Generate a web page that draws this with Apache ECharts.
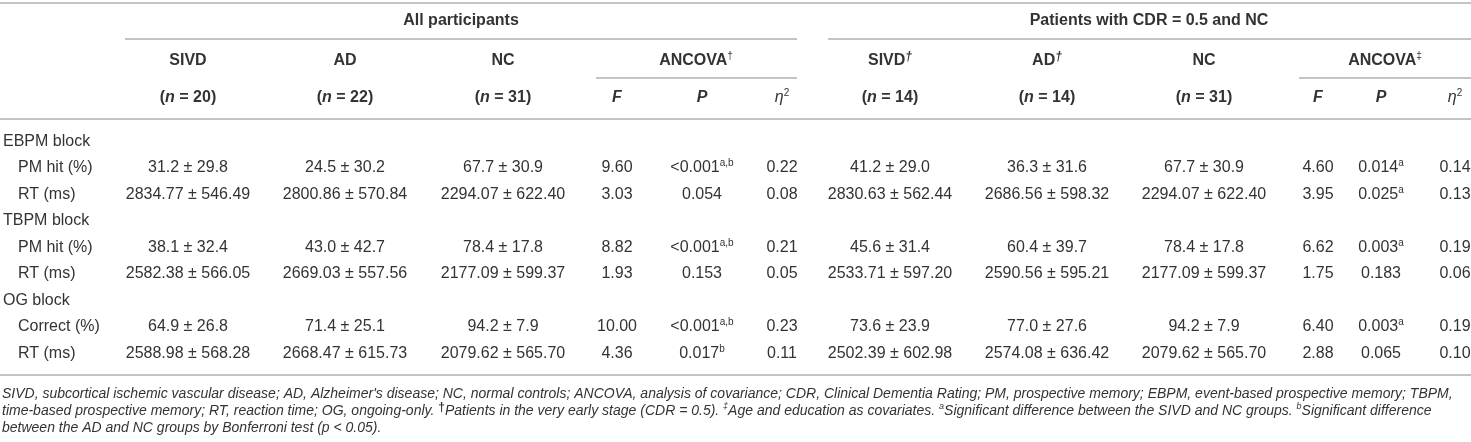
<!DOCTYPE html>
<html>
<head>
<meta charset="utf-8">
<script src="https://cdn.jsdelivr.net/npm/echarts@6/dist/echarts.min.js"></script>
<style>
html,body{margin:0;padding:0;background:#fff;}
#chart{width:1471px;height:442px;}
</style>
</head>
<body>
<div id="chart"></div>
<script>
// ---------- DATA ----------
const groupHeaders = ['All participants', 'Patients with CDR = 0.5 and NC'];
const groupNames = ['SIVD', 'AD', 'NC'];
const nAll = [20, 22, 31];
const nEarly = [14, 14, 31];
const statHeaders = ['F', 'P'];
const blockLabels = ['EBPM block', 'TBPM block', 'OG block'];
const measureLabels = ['PM hit (%)', 'RT (ms)', 'PM hit (%)', 'RT (ms)', 'Correct (%)', 'RT (ms)'];
const measureDecimals = [1, 2, 1, 2, 1, 2];

// All participants
const sivdMean = [31.2, 2834.77, 38.1, 2582.38, 64.9, 2588.98];
const sivdSD   = [29.8, 546.49, 32.4, 566.05, 26.8, 568.28];
const adMean   = [24.5, 2800.86, 43.0, 2669.03, 71.4, 2668.47];
const adSD     = [30.2, 570.84, 42.7, 557.56, 25.1, 615.73];
const ncMean   = [67.7, 2294.07, 78.4, 2177.09, 94.2, 2079.62];
const ncSD     = [30.9, 622.40, 17.8, 599.37, 7.9, 565.70];
const fAll     = [9.60, 3.03, 8.82, 1.93, 10.00, 4.36];
const pAll     = ['<0.001', '0.054', '<0.001', '0.153', '<0.001', '0.017'];
const pAllSup  = ['a,b', '', 'a,b', '', 'a,b', 'b'];
const etaAll   = [0.22, 0.08, 0.21, 0.05, 0.23, 0.11];

// Patients with CDR = 0.5 and NC
const sivdEMean = [41.2, 2830.63, 45.6, 2533.71, 73.6, 2502.39];
const sivdESD   = [29.0, 562.44, 31.4, 597.20, 23.9, 602.98];
const adEMean   = [36.3, 2686.56, 60.4, 2590.56, 77.0, 2574.08];
const adESD     = [31.6, 598.32, 39.7, 595.21, 27.6, 636.42];
const ncEMean   = [67.7, 2294.07, 78.4, 2177.09, 94.2, 2079.62];
const ncESD     = [30.9, 622.40, 17.8, 599.37, 7.9, 565.70];
const fEarly    = [4.60, 3.95, 6.62, 1.75, 6.40, 2.88];
const pEarly    = ['0.014', '0.025', '0.003', '0.183', '0.003', '0.065'];
const pEarlySup = ['a', 'a', 'a', '', 'a', ''];
const etaEarly  = [0.14, 0.13, 0.19, 0.06, 0.19, 0.10];

const footnoteLines = [
  [['fi', "SIVD, subcortical ischemic vascular disease; AD, Alzheimer's disease; NC, normal controls; ANCOVA, analysis of covariance; CDR, Clinical Dementia Rating; PM, prospective memory; EBPM, event-based prospective memory; TBPM,"]],
  [['fi', 'time-based prospective memory; RT, reaction time; OG, ongoing-only. '], ['fdag', '†'], ['fi', 'Patients in the very early stage (CDR = 0.5). '], ['fsup', '‡'], ['fi', 'Age and education as covariates. '], ['fsup', 'a'], ['fi', 'Significant difference between the SIVD and NC groups. '], ['fsup', 'b'], ['fi', 'Significant difference']],
  [['fi', 'between the AD and NC groups by Bonferroni test (p < 0.05).']]
];

// ---------- LAYOUT ----------
const W = 1471, H = 442;
const colX = [188, 345, 503, 617, 702, 782, 890, 1047, 1204, 1318, 1381, 1455];
const groupCenterX = [461, 1149];
const ancovaCenterX = [696, 1385];
const labelX = 3, indentX = 18, footX = 2;
const yGroup = 21, yCol = 61, yN = 98;
const rowY = [142, 168, 195, 221, 248, 274, 301, 327, 354];
const footY = [394, 411, 428];
const rules = [
  [0, W, 3], [125, 797, 39], [828, W, 39], [596, 797, 78], [1299, W, 78], [0, W, 119], [0, W, 375]
];

const FF = '"Liberation Sans", Arial, Helvetica, sans-serif';
const COLOR = '#333';
function tok(size, weight, style, extra) {
  return Object.assign({fontFamily: FF, fontSize: size, fontWeight: weight, fontStyle: style,
    fill: COLOR, lineHeight: 20, verticalAlign: 'middle'}, extra || {});
}
const RICH = {
  r: tok(16, 'normal', 'normal'),
  b: tok(16, 'bold', 'normal'),
  bi: tok(16, 'bold', 'italic'),
  it: tok(16, 'normal', 'italic'),
  sup: tok(10, 'normal', 'normal', {lineHeight: 14, verticalAlign: 'top'}),
  bsup: tok(10, 'bold', 'normal', {lineHeight: 14, verticalAlign: 'top'}),
  bisup: tok(12, 'bold', 'italic', {lineHeight: 12, verticalAlign: 'top'}),
  fi: tok(14, 'normal', 'italic', {lineHeight: 18}),
  fsup: tok(9, 'normal', 'italic', {lineHeight: 12, verticalAlign: 'top'}),
  fdag: tok(12, 'bold', 'normal', {lineHeight: 12, verticalAlign: 'top'})
};
function rich(parts) {
  return parts.map(p => p[1] ? '{' + p[0] + '|' + p[1] + '}' : '').join('');
}

// ---------- CELLS ----------
const cells = [];
function add(x, y, parts, align) { cells.push({value: [x, y], text: rich(parts), align: align || 'center'}); }

add(groupCenterX[0], yGroup, [['b', groupHeaders[0]]]);
add(groupCenterX[1], yGroup, [['b', groupHeaders[1]]]);
for (let g = 0; g < 3; g++) {
  add(colX[g], yCol, [['b', groupNames[g]]]);
  add(colX[g], yN, [['b', '('], ['bi', 'n'], ['b', ' = ' + nAll[g] + ')']]);
  const early = g < 2 ? [['b', groupNames[g]], ['bisup', '†']] : [['b', groupNames[g]]];
  add(colX[6 + g], yCol, early);
  add(colX[6 + g], yN, [['b', '('], ['bi', 'n'], ['b', ' = ' + nEarly[g] + ')']]);
}
add(ancovaCenterX[0], yCol, [['b', 'ANCOVA'], ['sup', '†']]);
add(ancovaCenterX[1], yCol, [['b', 'ANCOVA'], ['sup', '‡']]);
[0, 6].forEach(o => {
  add(colX[o + 3], yN, [['bi', statHeaders[0]]]);
  add(colX[o + 4], yN, [['bi', statHeaders[1]]]);
  add(colX[o + 5], yN, [['it', 'η'], ['sup', '2']]);
});

const fmt = (m, s, d) => m.toFixed(d) + ' ± ' + s.toFixed(d);
for (let b = 0; b < 3; b++) {
  add(labelX, rowY[b * 3], [['r', blockLabels[b]]], 'left');
  for (let k = 0; k < 2; k++) {
    const i = b * 2 + k, y = rowY[b * 3 + 1 + k], d = measureDecimals[i];
    add(indentX, y, [['r', measureLabels[i]]], 'left');
    add(colX[0], y, [['r', fmt(sivdMean[i], sivdSD[i], d)]]);
    add(colX[1], y, [['r', fmt(adMean[i], adSD[i], d)]]);
    add(colX[2], y, [['r', fmt(ncMean[i], ncSD[i], d)]]);
    add(colX[3], y, [['r', fAll[i].toFixed(2)]]);
    add(colX[4], y, [['r', pAll[i]], ['sup', pAllSup[i]]]);
    add(colX[5], y, [['r', etaAll[i].toFixed(2)]]);
    add(colX[6], y, [['r', fmt(sivdEMean[i], sivdESD[i], d)]]);
    add(colX[7], y, [['r', fmt(adEMean[i], adESD[i], d)]]);
    add(colX[8], y, [['r', fmt(ncEMean[i], ncESD[i], d)]]);
    add(colX[9], y, [['r', fEarly[i].toFixed(2)]]);
    add(colX[10], y, [['r', pEarly[i]], ['sup', pEarlySup[i]]]);
    add(colX[11], y, [['r', etaEarly[i].toFixed(2)]]);
  }
}
footnoteLines.forEach((parts, i) => add(footX, footY[i], parts, 'left'));

// ---------- CHART ----------
const chart = echarts.init(document.getElementById('chart'), null, {renderer: 'canvas'});
chart.setOption({
  animation: false,
  backgroundColor: '#fff',
  grid: {left: 0, right: 0, top: 0, bottom: 0},
  xAxis: {type: 'value', min: 0, max: W, show: false},
  yAxis: {type: 'value', min: 0, max: H, inverse: true, show: false},
  series: [
    {
      type: 'custom', coordinateSystem: 'cartesian2d', clip: false, silent: true,
      encode: {x: [0, 1], y: 2},
      data: rules,
      renderItem: function (params, api) {
        const p1 = api.coord([api.value(0), api.value(2)]);
        const p2 = api.coord([api.value(1), api.value(2)]);
        return {type: 'line', shape: {x1: p1[0], y1: p1[1], x2: p2[0], y2: p2[1]},
          style: {stroke: '#b0b0b0', lineWidth: 1.5}};
      }
    },
    {
      type: 'custom', coordinateSystem: 'cartesian2d', clip: false, silent: true,
      encode: {x: 0, y: 1},
      data: cells.map(c => c.value),
      renderItem: function (params, api) {
        const c = cells[params.dataIndex];
        const p = api.coord([api.value(0), api.value(1)]);
        return {type: 'text', x: p[0], y: p[1],
          style: {text: c.text, rich: RICH, align: c.align, verticalAlign: 'middle',
            fill: COLOR, fontFamily: FF, fontSize: 16}};
      }
    }
  ]
});
</script>
</body>
</html>
